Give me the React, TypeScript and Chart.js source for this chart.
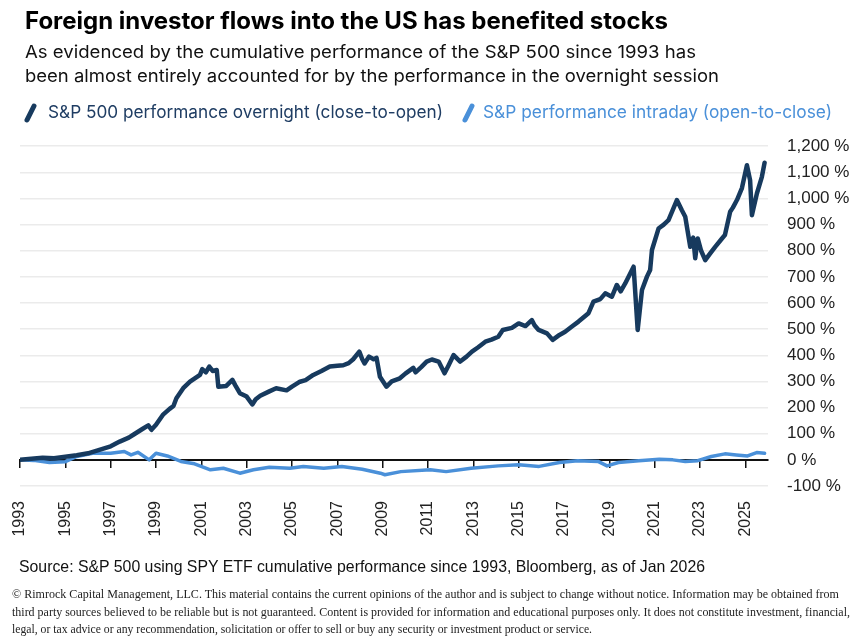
import React, { useEffect, useRef } from "react";
import { Chart, registerables } from "chart.js";

Chart.register(...registerables);

// ---------- data ----------
const xTickYears = [1993, 1995, 1997, 1999, 2001, 2003, 2005, 2007, 2009, 2011, 2013, 2015, 2017, 2019, 2021, 2023, 2025];
const yTickValues = [-100, 0, 100, 200, 300, 400, 500, 600, 700, 800, 900, 1000, 1100, 1200];

const overnightYears = [
  1993.0, 1993.5, 1994.0, 1994.5, 1995.0, 1995.5, 1996.0, 1996.5, 1997.0, 1997.4, 1997.8, 1998.0, 1998.4, 1998.66, 1998.8,
  1999.0, 1999.3, 1999.6, 1999.77, 1999.9, 2000.2, 2000.5, 2000.94, 2001.04, 2001.2, 2001.35, 2001.5, 2001.68, 2001.75,
  2002.1, 2002.37, 2002.5, 2002.7, 2003.0, 2003.25, 2003.4, 2003.6, 2004.0, 2004.3, 2004.76, 2005.0, 2005.35, 2005.6,
  2005.94, 2006.3, 2006.67, 2007.0, 2007.26, 2007.5, 2007.7, 2007.97, 2008.1, 2008.2, 2008.4, 2008.6, 2008.73, 2008.88,
  2009.17, 2009.4, 2009.76, 2010.0, 2010.35, 2010.45, 2010.7, 2010.94, 2011.17, 2011.47, 2011.73, 2011.9, 2012.13,
  2012.42, 2012.7, 2012.94, 2013.2, 2013.53, 2013.8, 2014.1, 2014.3, 2014.7, 2015.0, 2015.3, 2015.58, 2015.7, 2015.88,
  2016.25, 2016.5, 2016.8, 2017.05, 2017.35, 2017.64, 2018.08, 2018.3, 2018.6, 2018.82, 2019.11, 2019.33, 2019.5,
  2019.7, 2020.07, 2020.25, 2020.44, 2020.66, 2020.8, 2020.88, 2021.17, 2021.4, 2021.61, 2021.98, 2022.2, 2022.35,
  2022.57, 2022.7, 2022.79, 2022.9, 2023.05, 2023.23, 2023.45, 2023.67, 2023.97, 2024.1, 2024.33, 2024.45, 2024.63,
  2024.85, 2025.07, 2025.21, 2025.29, 2025.51, 2025.73, 2025.85,
];
const overnightValues = [
  0, 4, 8, 6, 12, 18, 25, 38, 52, 70, 85, 96, 118, 132, 115,
  134, 172, 195, 206, 236, 274, 299, 325, 347, 335, 357, 340, 344, 280,
  283, 306, 285, 255, 242, 212, 232, 245, 262, 274, 266, 280, 299, 305,
  325, 340, 357, 360, 362, 370, 385, 414, 385, 369, 395, 385, 390, 318,
  280, 300, 312, 330, 352, 335, 355, 376, 384, 376, 331, 360, 401,
  376, 395, 414, 430, 452, 460, 471, 497, 505, 522, 512, 535, 515, 497,
  484, 459, 478, 490, 510, 529, 561, 605, 615, 637, 624, 669, 645,
  675, 739, 497, 650, 701, 726, 803, 885, 900, 917, 994, 955, 930,
  815, 850, 771, 847, 800, 764, 790, 815, 847, 860, 949, 965, 994,
  1040, 1127, 1070, 936, 1019, 1083, 1137,
];

const intradayYears = [
  1993.0, 1993.6, 1994.3, 1995.0, 1995.5, 1996.2, 1997.0, 1997.6, 1997.9, 1998.2, 1998.7, 1999.0, 1999.5, 2000.1,
  2000.7, 2001.4, 2001.97, 2002.7, 2003.3, 2004.0, 2004.9, 2005.5, 2006.4, 2007.2, 2008.1, 2008.9, 2009.1, 2009.8,
  2011.1, 2011.8, 2012.9, 2014.1, 2015.0, 2015.9, 2016.8, 2017.6, 2018.5, 2018.9, 2019.4, 2020.3, 2021.2, 2021.8,
  2022.35, 2022.9, 2023.5, 2024.1, 2024.6, 2025.1, 2025.5, 2025.85,
];
const intradayValues = [
  0, -2, -10, -7, 13, 25, 25, 32, 19, 29, 0, 25, 15, -6,
  -15, -38, -32, -51, -38, -28, -32, -25, -32, -25, -36, -51, -57, -45,
  -38, -45, -32, -23, -19, -25, -10, -3, -6, -23, -10, -3, 2, 0,
  -6, -3, 13, 23, 19, 15, 28, 25,
];

const seriesLabels = [
  "S&P 500 performance overnight (close-to-open)",
  "S&P performance intraday (open-to-close)",
];

const titleText = "Foreign investor flows into the US has benefited stocks";
const subtitleLines = [
  "As evidenced by the cumulative performance of the S&P 500 since 1993 has",
  "been almost entirely accounted for by the performance in the overnight session",
];
const sourceText = "Source:  S&P 500 using SPY ETF cumulative performance since 1993, Bloomberg, as of Jan 2026";
const footerLines = [
  "© Rimrock Capital Management, LLC.  This material contains the current opinions of the author and is subject to change without notice.  Information may be obtained from",
  "third party sources believed to be reliable but is not guaranteed.  Content is provided for information and educational purposes only. It does not constitute investment, financial,",
  "legal, or tax advice or any recommendation, solicitation or offer to sell or buy any security or investment product or service.",
];

const NAVY = "#173a5e";
const LIGHT = "#4a90d9";

export default function App() {
  const canvasRef = useRef<HTMLCanvasElement | null>(null);

  useEffect(() => {
    if (!canvasRef.current) return;
    const setTicks = (s: any) => {
      s.ticks = xTickYears.map((v) => ({ value: v }));
    };
    const chart = new Chart(canvasRef.current, {
      type: "line",
      data: {
        datasets: [
          {
            label: seriesLabels[0],
            data: overnightYears.map((x, i) => ({ x, y: overnightValues[i] })),
            borderColor: NAVY,
            backgroundColor: NAVY,
            borderWidth: 4.5,
            pointRadius: 0,
            tension: 0,
            borderJoinStyle: "round",
            borderCapStyle: "round",
            xAxisID: "x",
            yAxisID: "y",
          },
          {
            label: seriesLabels[1],
            data: intradayYears.map((x, i) => ({ x, y: intradayValues[i] })),
            borderColor: LIGHT,
            backgroundColor: LIGHT,
            borderWidth: 3.5,
            pointRadius: 0,
            tension: 0,
            borderJoinStyle: "round",
            borderCapStyle: "round",
            xAxisID: "x",
            yAxisID: "y",
          },
        ],
      },
      options: {
        responsive: false,
        animation: false,
        layout: { padding: { left: 20, top: 0, right: 0, bottom: 0 } },
        plugins: { legend: { display: false }, tooltip: { enabled: false }, title: { display: false } },
        scales: {
          x: {
            type: "linear",
            axis: "x",
            position: "bottom",
            min: 1993,
            max: 2026,
            afterBuildTicks: setTicks,
            afterFit: (s: any) => {
              s.height = 64;
            },
            grid: { display: false },
            border: { display: false },
            ticks: {
              autoSkip: false,
              minRotation: 90,
              maxRotation: 90,
              padding: 7,
              color: "#222",
              font: { family: "'Liberation Sans', Arial, sans-serif", size: 16 },
              callback: (v: any) => String(v),
            },
          },
          xZero: {
            type: "linear",
            axis: "x",
            position: { y: 0 },
            min: 1993,
            max: 2026,
            afterBuildTicks: setTicks,
            grid: { drawOnChartArea: false, drawTicks: true, tickLength: 7, color: "#111", lineWidth: 1.5 },
            border: { display: true, color: "#111", width: 2 },
            ticks: { display: false },
          },
          y: {
            type: "linear",
            position: "right",
            min: -100,
            max: 1200,
            afterBuildTicks: (s: any) => {
              s.ticks = yTickValues.map((v) => ({ value: v }));
            },
            afterFit: (s: any) => {
              s.width = 96;
            },
            grid: { color: "#ebebeb", lineWidth: 1.5, drawTicks: false },
            border: { display: false },
            ticks: {
              padding: 19,
              color: "#222",
              font: { family: "'Liberation Sans', Arial, sans-serif", size: 17 },
              callback: (v: any) => Number(v).toLocaleString("en-US") + " %",
            },
          },
        },
      },
    } as any);
    return () => chart.destroy();
  }, []);

  const sans = "Inter, 'Noto Sans', sans-serif";

  return (
    <div style={{ position: "absolute", left: 0, top: 0, width: 864, height: 639, background: "#fff", overflow: "hidden" }}>
      <canvas
        ref={canvasRef}
        width={864}
        height={433}
        style={{ position: "absolute", left: 0, top: 117, width: 864, height: 433, display: "block" }}
      />
      <svg
        width={864}
        height={639}
        style={{ position: "absolute", left: 0, top: 0, pointerEvents: "none" }}
      >
        <text x={25} y={29} fontFamily={sans} fontWeight={700} fontSize={24} fill="#000"
          textLength={643} lengthAdjust="spacingAndGlyphs">{titleText}</text>
        <text x={25} y={58} fontFamily={sans} fontSize={17.5} fill="#111"
          textLength={671} lengthAdjust="spacingAndGlyphs">{subtitleLines[0]}</text>
        <text x={25} y={82} fontFamily={sans} fontSize={17.5} fill="#111"
          textLength={694} lengthAdjust="spacingAndGlyphs">{subtitleLines[1]}</text>

        <line x1={27} y1={120} x2={34} y2={106} stroke={NAVY} strokeWidth={5} strokeLinecap="round" />
        <text x={48} y={118} fontFamily={sans} fontSize={17.5} fill="#1f3d63"
          textLength={395} lengthAdjust="spacingAndGlyphs">{seriesLabels[0]}</text>
        <line x1={465} y1={120} x2={472} y2={106} stroke={LIGHT} strokeWidth={5} strokeLinecap="round" />
        <text x={483} y={118} fontFamily={sans} fontSize={17.5} fill={LIGHT}
          textLength={349} lengthAdjust="spacingAndGlyphs">{seriesLabels[1]}</text>

        <text x={19} y={572} fontFamily="'Liberation Sans', Arial, sans-serif" fontSize={16.5} fill="#111"
          textLength={686} lengthAdjust="spacingAndGlyphs">{sourceText}</text>

        <text x={12} y={598} fontFamily="'Liberation Serif', 'Times New Roman', serif" fontSize={12.5} fill="#222"
          textLength={827} lengthAdjust="spacingAndGlyphs">{footerLines[0]}</text>
        <text x={12} y={616} fontFamily="'Liberation Serif', 'Times New Roman', serif" fontSize={12.5} fill="#222"
          textLength={838} lengthAdjust="spacingAndGlyphs">{footerLines[1]}</text>
        <text x={12} y={633} fontFamily="'Liberation Serif', 'Times New Roman', serif" fontSize={12.5} fill="#222"
          textLength={580} lengthAdjust="spacingAndGlyphs">{footerLines[2]}</text>
      </svg>
    </div>
  );
}
